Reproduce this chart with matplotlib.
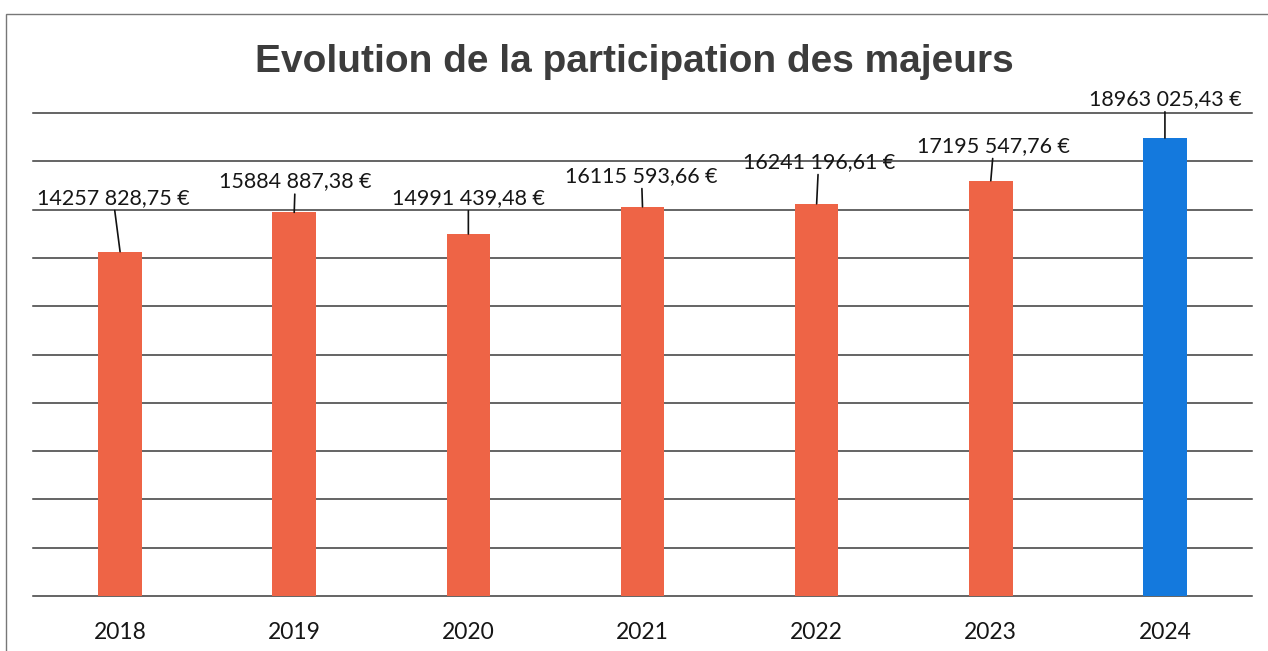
import matplotlib.pyplot as plt
from matplotlib.patches import Rectangle

years = ['2018', '2019', '2020', '2021', '2022', '2023', '2024']
values = [14257828.75, 15884887.38, 14991439.48, 16115593.66, 16241196.61, 17195547.76, 18963025.43]
colors = ['#EE6446'] * 6 + ['#1479DD']

# label offsets from bar top, in pixels (dx, dy)
off_x = [-7, 1, 0, -1, 2, 3, 0]
off_y = [54, 31, 36, 31, 42, 35, 39]


def fmt(v):
    s = f"{v:.2f}"
    ent, dec = s.split('.')
    return ent[:-3] + ' ' + ent[-3:] + ',' + dec + ' €'


fig = plt.figure(figsize=(12.68, 6.51), dpi=100)
ax = fig.add_axes([33 / 1268, 55 / 651, 1219 / 1268, 483 / 651])

x = list(range(len(years)))
ax.set_xlim(-0.5, len(years) - 0.5)
ax.set_ylim(0, 20000000)

for g in range(0, 20000001, 2000000):
    ax.axhline(g, color='#3a3a3a', lw=1.1, zorder=1, clip_on=False)

ax.bar(x, values, width=0.25, color=colors, zorder=2)

for i, v in enumerate(values):
    ax.annotate(fmt(v), xy=(i, v), xytext=(off_x[i] * 0.72, off_y[i] * 0.72),
                textcoords='offset points', ha='center', va='center',
                fontsize=15.5, family='Lato', color='#161616',
                arrowprops=dict(arrowstyle='-', color='#111111', lw=1.2,
                                shrinkA=0, shrinkB=0))

ax.set_xticks(x)
ax.set_xticklabels(years, fontsize=16.5, family='Lato', color='#161616')
ax.tick_params(axis='x', length=0, pad=19)
ax.set_yticks([])
for s in ax.spines.values():
    s.set_visible(False)

fig.text(0.5, 1 - 62 / 651, 'Evolution de la participation des majeurs',
         ha='center', va='center', fontsize=28, fontweight='bold',
         family='Liberation Sans', color='#3c3c3c')

fig.patches.append(Rectangle((6 / 1268, -0.05), 1.1, 1 - 14 / 651 + 0.05,
                             transform=fig.transFigure, fill=False,
                             edgecolor='#777777', lw=1))

fig.savefig('out.png', dpi=100)
